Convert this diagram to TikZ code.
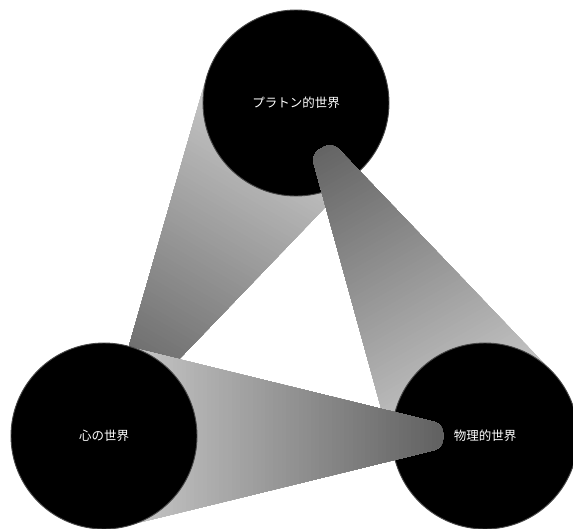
\documentclass[tikz,border=0pt]{standalone}
\usepackage{fontspec}
\newfontfamily\jpfont{Noto Sans CJK JP}
\usetikzlibrary{calc}
\pgfdeclarelayer{wa}
\pgfdeclarelayer{pa}
\pgfdeclarelayer{wc}
\pgfdeclarelayer{pb}
\pgfdeclarelayer{wb}
\pgfsetlayers{wa,pa,wc,pb,wb,main}
\tikzset{
  world/.style={circle, fill=black, draw=black!72, line width=0.9pt,
    minimum size=186pt, inner sep=0pt, text=white,
    font=\jpfont\fontsize{12.5}{15}\selectfont},
  cone/.style={rounded corners=9pt}
}
% #1 source node (wide end), #2 target node (narrow end), #3 tip distance from target centre
\newcommand\wedgeconn[3]{%
  \path (#1.center); \pgfgetlastxy{\wxa}{\wya}%
  \path (#2.center); \pgfgetlastxy{\wxb}{\wyb}%
  \pgfmathsetmacro\wdx{(\wxb)-(\wxa)}%
  \pgfmathsetmacro\wdy{(\wyb)-(\wya)}%
  \pgfmathsetmacro\wAng{atan2(\wdy,\wdx)}%
  \pgfmathsetmacro\wLen{100*veclen(\wdx/100,\wdy/100)}%
  \pgfmathsetmacro\wEnd{\wLen-#3}%
  \pgfmathsetmacro\wW{0.25*\wLen}%
  \pgfmathsetmacro\wB{\wW-(\wW-12)*(20/\wEnd)}%
  \begin{scope}[shift={(#1.center)}, rotate=\wAng]
    \clip[cone] (20pt,\wB pt) -- (\wEnd pt,12pt) -- (\wEnd pt,-12pt) -- (20pt,-\wB pt) -- cycle;
    \foreach \i in {0,...,79}{%
      \pgfmathsetmacro\uu{15+(\i/80)*(\wEnd-5)}%
      \pgfmathsetmacro\pc{81.2-49*(\uu/\wLen)}%
      \fill[white!\pc!black] (\uu pt,-110pt) rectangle (\wLen pt,110pt);
    }
  \end{scope}%
}
\begin{document}
\begin{tikzpicture}[x=1pt,y=-1pt]
\useasboundingbox (0,0) rectangle (573,528);
\begin{pgfonlayer}{pa}
  \node[world] (plato) at (296,103) {プラトン的世界};
\end{pgfonlayer}
\begin{pgfonlayer}{pb}
  \node[world] (phys) at (485,436) {物理的世界};
\end{pgfonlayer}
\node[world] (mind) at (104,436) {心の世界};
\begin{pgfonlayer}{wa}
  \wedgeconn{plato}{mind}{45}
\end{pgfonlayer}
\begin{pgfonlayer}{wc}
  \wedgeconn{phys}{plato}{52}
\end{pgfonlayer}
\begin{pgfonlayer}{wb}
  \wedgeconn{mind}{phys}{42}
\end{pgfonlayer}
\end{tikzpicture}
\end{document}
